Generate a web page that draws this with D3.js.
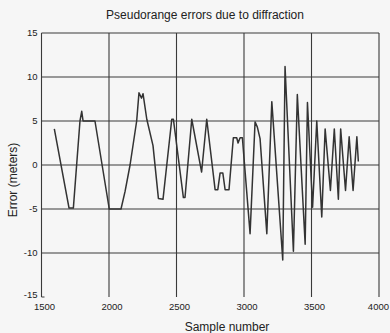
<!DOCTYPE html>
<html>
<head>
<meta charset="utf-8">
<script src="https://d3js.org/d3.v7.min.js"></script>
<style>
  html, body { margin: 0; padding: 0; background: #f6f6f6; }
  svg { display: block; font-family: "Liberation Sans", Arial, sans-serif; }
</style>
</head>
<body>
<svg></svg>
<script>
/* data */
var samples = [1595, 1704, 1736, 1785, 1798, 1808, 1896, 2002, 2089, 2119,
  2156, 2205, 2222, 2241, 2252, 2280, 2326, 2366, 2400, 2465,
  2477, 2551, 2563, 2613, 2686, 2724, 2786, 2806, 2823, 2843,
  2860, 2889, 2921, 2946, 2956, 2971, 2988, 3045, 3082, 3099,
  3119, 3169, 3206, 3287, 3304, 3366, 3395, 3453, 3470, 3508,
  3539, 3576, 3601, 3640, 3669, 3699, 3716, 3752, 3779, 3808,
  3836, 3847];
var errors = [4.1, -4.9, -4.9, 5.0, 6.1, 5.0, 5.0, -5.0, -5.0, -3.0,
  0.0, 5.0, 8.2, 7.6, 8.1, 5.2, 2.2, -3.8, -3.9, 5.2,
  5.2, -3.7, -3.7, 5.2, -0.8, 5.2, -2.8, -2.8, -0.9, -0.9,
  -2.8, -2.8, 3.1, 3.1, 2.5, 3.1, 3.1, -7.8, 4.9, 4.3,
  3.0, -7.8, 7.2, -10.8, 11.2, -9.8, 8.0, -9.0, 7.1, -4.8,
  5.0, -5.9, 4.1, -2.9, 4.1, -3.9, 4.1, -2.9, 3.2, -2.9,
  3.2, 0.4];
var xTicks = [1500, 2000, 2500, 3000, 3500, 4000];
var yTicks = [-15, -10, -5, 0, 5, 10, 15];
var title = 'Pseudorange errors due to diffraction';
var xLabel = 'Sample number';
var yLabel = 'Error (meters)';

var svgWidth = 390;
var svgHeight = 333;
var plot = {left: 41.5, right: 379, top: 33, bottom: 297};

var svg = d3.select('svg')
    .attr('width', svgWidth)
    .attr('height', svgHeight);

var x = d3.scaleLinear().domain([1500, 4000]).range([plot.left, plot.right]);
var y = d3.scaleLinear().domain([-15, 15]).range([plot.bottom, plot.top]);

var ink = '#3a3a3a';

// grid lines (horizontal)
svg.append('g').selectAll('line')
    .data(yTicks.filter(function(d){ return d > -15; }))
    .enter().append('line')
    .attr('x1', plot.left).attr('x2', plot.right)
    .attr('y1', function(d){ return y(d); })
    .attr('y2', function(d){ return y(d); })
    .attr('stroke', ink).attr('stroke-width', 1.1);

// grid lines (vertical)
svg.append('g').selectAll('line')
    .data(xTicks)
    .enter().append('line')
    .attr('x1', function(d){ return x(d); })
    .attr('x2', function(d){ return x(d); })
    .attr('y1', plot.top).attr('y2', plot.bottom)
    .attr('stroke', ink).attr('stroke-width', 1.1);

// small corner tick at bottom left (bottom border faded in the scan)
svg.append('line')
    .attr('x1', plot.left).attr('x2', plot.left + 3)
    .attr('y1', plot.bottom).attr('y2', plot.bottom)
    .attr('stroke', ink).attr('stroke-width', 1);

// waveform
var pts = samples.map(function(s, i){ return [s, errors[i]]; });
var line = d3.line()
    .x(function(d){ return x(d[0]); })
    .y(function(d){ return y(d[1]); });

svg.append('path')
    .datum(pts)
    .attr('d', line)
    .attr('fill', 'none')
    .attr('stroke', '#333')
    .attr('stroke-width', 1.5)
    .attr('stroke-linejoin', 'round');

// y tick labels
svg.append('g').selectAll('text')
    .data(yTicks)
    .enter().append('text')
    .attr('x', plot.left - 4)
    .attr('y', function(d){ return d === -15 ? y(d) - 2 : y(d); })
    .attr('dy', '0.35em')
    .attr('text-anchor', 'end')
    .attr('font-size', 9.5)
    .attr('fill', '#222')
    .text(function(d){ return d; });

// x tick labels (last one kept inside the frame)
svg.append('g').selectAll('text')
    .data(xTicks)
    .enter().append('text')
    .attr('x', function(d, i){ return i === xTicks.length - 1 ? svgWidth - 1 : x(d) + 3; })
    .attr('y', plot.bottom + 10)
    .attr('dy', '0.35em')
    .attr('text-anchor', function(d, i){ return i === xTicks.length - 1 ? 'end' : 'middle'; })
    .attr('font-size', 9.5)
    .attr('fill', '#222')
    .text(function(d){ return d; });

// title and axis labels
svg.append('text')
    .attr('x', 205).attr('y', 19)
    .attr('text-anchor', 'middle')
    .attr('font-size', 12)
    .attr('fill', '#222')
    .text(title);

svg.append('text')
    .attr('x', 227).attr('y', 331)
    .attr('text-anchor', 'middle')
    .attr('font-size', 12)
    .attr('fill', '#222')
    .text(xLabel);

svg.append('text')
    .attr('transform', 'translate(17,180) rotate(-90)')
    .attr('text-anchor', 'middle')
    .attr('font-size', 12)
    .attr('fill', '#222')
    .text(yLabel);
</script>
</body>
</html>
